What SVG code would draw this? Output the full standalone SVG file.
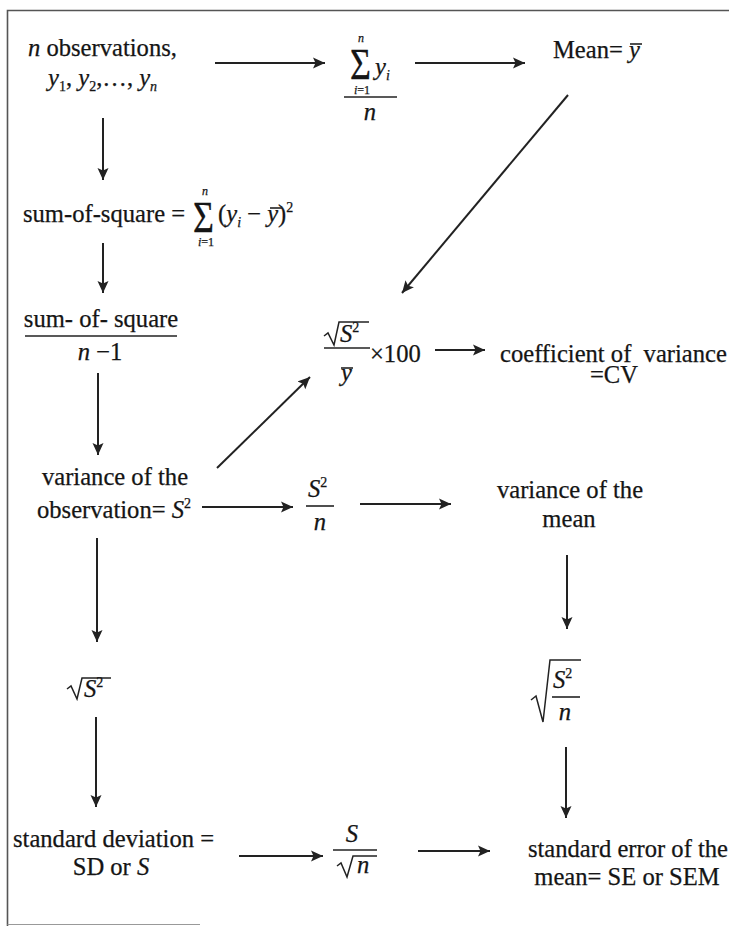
<svg xmlns="http://www.w3.org/2000/svg" width="729" height="926" viewBox="0 0 729 926">
<defs>
<style>
text{font-family:"Liberation Serif","Times New Roman",Tinos,"DejaVu Serif",serif;font-size:24.6px;fill:#151515;stroke:#151515;stroke-width:0.25px}
.i{font-style:italic}
.sm{font-size:14px}
.xs{font-size:12px}
.c{text-anchor:middle}
.fr{stroke:#222;stroke-width:1.6;fill:none}
.rad{stroke:#222;stroke-width:1.5;fill:none;stroke-linejoin:miter}
.arr{stroke:#222;stroke-width:2;fill:none;marker-end:url(#ah)}
</style>
<marker id="ah" markerUnits="userSpaceOnUse" markerWidth="14" markerHeight="12" refX="12" refY="6" orient="auto">
<path d="M0,0.5 L12,6 L0,11.5 L2.5,6 Z" fill="#222"/>
</marker>
</defs>
<rect width="729" height="926" fill="#fff"/>
<g id="frame">
<path d="M7.5,926 L7.5,10.5 L729,10.5" stroke="#555" stroke-width="1.6" fill="none"/>
<path d="M7.5,924.5 L200,924.5" stroke="#999" stroke-width="1" fill="none"/>
</g>
<g id="connectors">
<line class="arr" x1="215" y1="63" x2="325" y2="63"/>
<line class="arr" x1="415" y1="63" x2="525" y2="63"/>
<line class="arr" x1="568" y1="95" x2="402" y2="293"/>
<line class="arr" x1="103" y1="118" x2="103" y2="180"/>
<line class="arr" x1="103" y1="243" x2="103" y2="293"/>
<line class="arr" x1="98" y1="373" x2="98" y2="455"/>
<line class="arr" x1="217" y1="468" x2="310" y2="377"/>
<line class="arr" x1="435" y1="350" x2="485" y2="350"/>
<line class="arr" x1="202" y1="507" x2="293" y2="507"/>
<line class="arr" x1="360" y1="504" x2="451" y2="504"/>
<line class="arr" x1="567" y1="555" x2="567" y2="629"/>
<line class="arr" x1="97" y1="538" x2="97" y2="642"/>
<line class="arr" x1="96" y1="717" x2="96" y2="807"/>
<line class="arr" x1="566" y1="747" x2="566" y2="818"/>
<line class="arr" x1="239" y1="856" x2="323" y2="856"/>
<line class="arr" x1="418" y1="851" x2="490" y2="851"/>
</g>
<g id="n-observations">
<text x="28" y="56"><tspan class="i">n</tspan> observations,</text>
<text x="48" y="86"><tspan class="i">y</tspan><tspan class="sm" dy="5">1</tspan><tspan dy="-5">, </tspan><tspan class="i">y</tspan><tspan class="sm" dy="5">2</tspan><tspan dy="-5">,…, </tspan><tspan class="i">y</tspan><tspan class="sm i" dy="5">n</tspan></text>
</g>
<g id="sum-over-n">
<text transform="translate(350,79) scale(1,1.25)" style="font-size:36px">Σ</text>
<text class="xs i c" x="361" y="42">n</text>
<text class="xs c" x="362" y="94"><tspan class="i">i</tspan>=1</text>
<text x="375" y="75"><tspan class="i">y</tspan><tspan class="sm i" dy="5">i</tspan></text>
<line class="fr" x1="344" y1="97" x2="397" y2="97"/>
<text class="i c" x="370" y="120">n</text>
</g>
<g id="mean">
<text x="553" y="58">Mean= <tspan class="i">y</tspan></text>
<line class="fr" x1="630" y1="44" x2="642" y2="44"/>
</g>
<g id="sum-of-square">
<text x="23" y="222">sum-of-square =</text>
<text transform="translate(193,232) scale(1,1.25)" style="font-size:36px">Σ</text>
<text class="xs i c" x="205" y="195">n</text>
<text class="xs c" x="206" y="246"><tspan class="i">i</tspan>=1</text>
<text x="218" y="222">(<tspan class="i">y</tspan><tspan class="sm i" dy="5">i</tspan><tspan dy="-5"> − </tspan><tspan class="i">y</tspan>)<tspan class="sm" dy="-10">2</tspan></text>
<line class="fr" x1="270" y1="208" x2="282" y2="208"/>
</g>
<g id="ss-over-n-1">
<text class="c" x="101" y="327">sum- of- square</text>
<line class="fr" x1="25" y1="336" x2="177" y2="336"/>
<text class="c" x="100" y="360"><tspan class="i">n</tspan> −1</text>
</g>
<g id="variance-observation">
<text class="c" x="115" y="485">variance of the</text>
<text class="c" x="114" y="518">observation= <tspan class="i">S</tspan><tspan class="sm" dy="-10">2</tspan></text>
</g>
<g id="cv-formula">
<path class="rad" d="M324,336 L328,333 L334,345 L339,322 L369,322"/>
<text x="340" y="342"><tspan class="i">S</tspan><tspan class="sm" dy="-10">2</tspan></text>
<line class="fr" x1="324" y1="348" x2="370" y2="348"/>
<text class="i" x="341" y="381">y</text>
<line class="fr" x1="341" y1="368" x2="353" y2="368"/>
<text x="370" y="362">×100</text>
</g>
<g id="coefficient-of-variance">
<text x="500" y="362">coefficient of&#160; variance</text>
<text x="590" y="383">=CV</text>
</g>
<g id="s2-over-n">
<text x="308" y="497"><tspan class="i">S</tspan><tspan class="sm" dy="-10">2</tspan></text>
<line class="fr" x1="306" y1="506" x2="334" y2="506"/>
<text class="i c" x="320" y="530">n</text>
</g>
<g id="variance-of-mean">
<text class="c" x="570" y="498">variance of the</text>
<text class="c" x="569" y="527">mean</text>
</g>
<g id="sqrt-s2-over-n">
<path class="rad" d="M531,700 L536,696 L543,722 L550,660 L581,660"/>
<text x="553" y="688"><tspan class="i">S</tspan><tspan class="sm" dy="-10">2</tspan></text>
<line class="fr" x1="552" y1="697" x2="580" y2="697"/>
<text class="i c" x="565" y="720">n</text>
</g>
<g id="sqrt-s2">
<path class="rad" d="M67,689 L71,686 L77,699 L82,678 L111,678"/>
<text x="84" y="697"><tspan class="i">S</tspan><tspan class="sm" dy="-10">2</tspan></text>
</g>
<g id="standard-deviation">
<text x="13" y="847">standard deviation =</text>
<text class="c" x="111" y="875">SD or <tspan class="i">S</tspan></text>
</g>
<g id="s-over-sqrt-n">
<text class="i c" x="352" y="842">S</text>
<line class="fr" x1="333" y1="850" x2="377" y2="850"/>
<path class="rad" d="M337,866 L341,863 L347,877 L353,856 L377,856"/>
<text class="i" x="357" y="873">n</text>
</g>
<g id="standard-error">
<text class="c" x="628" y="857">standard error of the</text>
<text class="c" x="627" y="885">mean= SE or SEM</text>
</g>
</svg>
